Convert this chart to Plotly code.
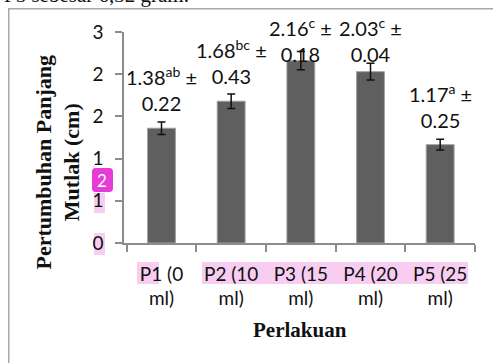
import plotly.graph_objects as go

# ---- data ----
categories = ["P1 (0<br>ml)", "P2 (10<br>ml)", "P3 (15<br>ml)", "P4 (20<br>ml)", "P5 (25<br>ml)"]
values = [1.36, 1.68, 2.16, 2.03, 1.165]
errors = [0.073, 0.085, 0.108, 0.10, 0.063]
label_means = ["1.38", "1.68", "2.16", "2.03", "1.17"]
label_letters = ["ab", "bc", "c", "c", "a"]
label_sd = ["0.22", "0.43", "0.18", "0.04", "0.25"]
y_tickvals = [0, 0.5, 1.0, 1.5, 2.0, 2.5]
y_ticktext = ["0", "1", "1", "2", "2", "3"]

W, H = 493, 363
L, R, T, B = 124, 18, 32, 120
PW, PH = W - L - R, H - T - B
YMAX = 2.5
PXU = PH / YMAX  # pixels per data unit

def px(x):
    return (x - L) / PW

def py(y):
    return (H - B - y) / PH

def rounded_rect(x0, y0, x1, y1, r):
    pts = [
        ("M", x0 + r, y0), ("L", x1 - r, y0), ("Q", x1, y0, x1, y0 + r),
        ("L", x1, y1 - r), ("Q", x1, y1, x1 - r, y1), ("L", x0 + r, y1),
        ("Q", x0, y1, x0, y1 - r), ("L", x0, y0 + r), ("Q", x0, y0, x0 + r, y0),
    ]
    out = []
    for p in pts:
        cmd, coords = p[0], p[1:]
        s = " ".join(f"{px(coords[i]):.5f},{py(coords[i+1]):.5f}" for i in range(0, len(coords), 2))
        out.append(f"{cmd} {s}")
    return " ".join(out) + " Z"

SANS = "Lato, 'Open Sans', sans-serif"
SERIF = "'Liberation Serif', 'Times New Roman', serif"

fig = go.Figure()
fig.add_trace(go.Bar(
    x=categories, y=values, width=0.4,
    marker=dict(color="#5f5f5f", line=dict(color="#a0a0a0", width=1)),
    error_y=dict(type="data", array=errors, visible=True, color="#111111", thickness=1.5, width=4),
    hoverinfo="skip",
))

annotations = []
# chart frame: an empty bordered box whose right and bottom edges run off the page
annotations.append(dict(
    x=px(8), y=py(8), xref="paper", yref="paper", xanchor="left", yanchor="top",
    showarrow=False, text=" ", width=520, height=380, borderpad=0,
    bordercolor="#a8a8a8", borderwidth=1.5,
))
for c, v, m, l, s in zip(categories, values, label_means, label_letters, label_sd):
    yy = min(v + 39 / PXU, 2.40)
    annotations.append(dict(
        x=c, y=yy, xref="x", yref="y", xanchor="center", yanchor="middle", showarrow=False,
        text=f"{m}<sup>{l}</sup> ±<br>{s}",
        font=dict(family=SANS, size=20, color="#111111"),
    ))

# axis titles
annotations.append(dict(
    x=px(299.5), y=py(330), xref="paper", yref="paper", xanchor="center", yanchor="middle",
    showarrow=False,
    text="<b>Perlakuan</b>", font=dict(family=SERIF, size=21, color="#111111"),
))
annotations.append(dict(
    x=px(57.5), y=py(162), xref="paper", yref="paper", xanchor="center", yanchor="middle",
    showarrow=False, textangle=-90,
    text="<b>Pertumbuhan Panjang<br>Mutlak (cm)</b>", font=dict(family=SERIF, size=22, color="#111111"),
))
# cut-off document text above the chart
annotations.append(dict(
    x=px(2), y=py(9), xref="paper", yref="paper", xanchor="left", yanchor="bottom", showarrow=False,
    text="P5 sebesar 6,32 gram.", font=dict(family=SERIF, size=21, color="#111111"),
))
# magenta marker text
annotations.append(dict(
    x=px(102.2), y=py(180), xref="paper", yref="paper", xanchor="center", yanchor="middle",
    showarrow=False,
    text="2", font=dict(family=SANS, size=17, color="white"),
))

shapes = [
    # magenta marker badge
    dict(type="path", xref="paper", yref="paper", path=rounded_rect(92, 168, 113, 192, 3.5),
         fillcolor="#e63bd7", line=dict(width=0), layer="above"),
]
hl = "#f8cdf2"
for (x0, y0, x1, y1) in [(94, 233, 105, 255), (94, 193, 105, 213), (137, 262, 159, 284), (202, 262, 468, 284)]:
    shapes.append(dict(type="rect", xref="paper", yref="paper", x0=px(x0), x1=px(x1), y0=py(y0), y1=py(y1),
                       fillcolor=hl, line=dict(width=0), layer="below"))

fig.update_layout(
    width=W, height=H, margin=dict(l=L, r=R, t=T, b=B, pad=0, autoexpand=False),
    paper_bgcolor="white", plot_bgcolor="rgba(0,0,0,0)",
    showlegend=False, bargap=0.6,
    annotations=annotations, shapes=shapes,
)
fig.update_xaxes(
    showline=True, linecolor="#8c8c8c", linewidth=1.5,
    ticks="outside", tickson="boundaries", ticklen=7, tickcolor="#8c8c8c", tickwidth=1.5,
    tickfont=dict(family=SANS, size=19, color="#111111"), showgrid=False,
    ticklabelstandoff=13, automargin=False,
)
fig.update_yaxes(
    range=[0, YMAX], tickvals=y_tickvals, ticktext=y_ticktext,
    showline=True, linecolor="#8c8c8c", linewidth=1.5,
    ticks="outside", ticklen=7, tickcolor="#8c8c8c", tickwidth=1.5,
    tickfont=dict(family=SANS, size=19, color="#111111"), showgrid=False, zeroline=False,
    ticklabelstandoff=8, automargin=False,
)

fig.write_html("out.html", config={"displayModeBar": False},
               post_script="document.body.style.margin='0';document.body.style.overflow='hidden';")
